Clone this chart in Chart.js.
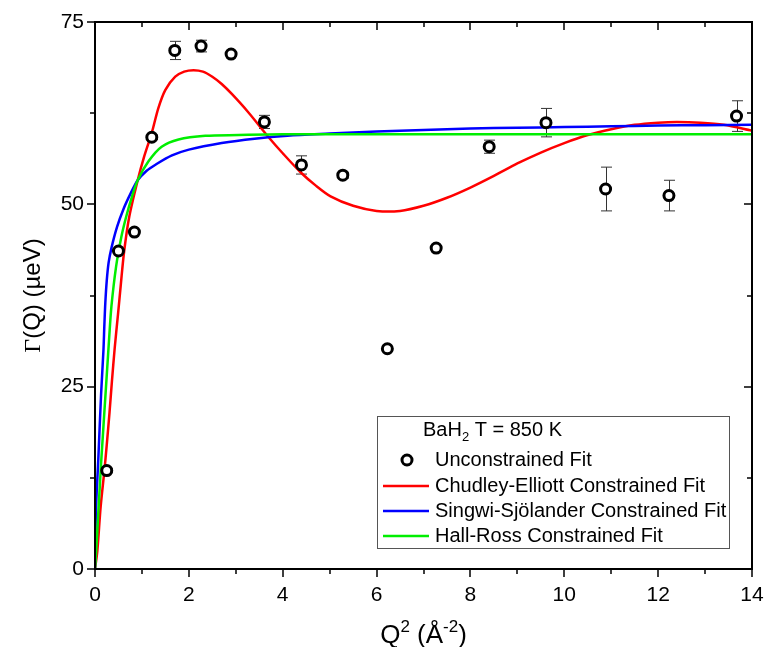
<!DOCTYPE html>
<html>
<head>
<meta charset="utf-8">
<title>BaH2 quasielastic linewidth</title>
<script src="https://cdn.jsdelivr.net/npm/chart.js@4.4.1/dist/chart.umd.min.js"></script>
<style>
    html, body { margin: 0; padding: 0; background: #fff; }
    #wrap { width: 766px; height: 647px; }
</style>
</head>
<body>
<div id="wrap"><canvas id="gamma-canvas" width="766" height="647"></canvas></div>
<script>
// Unconstrained fit linewidths, Q^2 in 1/A^2, Gamma in ueV
var q2 = [0.25, 0.50, 0.84, 1.21, 1.70, 2.26, 2.90, 3.61, 4.40, 5.28, 6.23, 7.27, 8.40, 9.61, 10.88, 12.23, 13.67];
var gamma = [13.5, 43.6, 46.2, 59.2, 71.1, 71.7, 70.6, 61.3, 55.4, 54.0, 30.2, 44.0, 57.9, 61.2, 52.1, 51.2, 62.1];
var gammaErr = [0.3, 0.3, 0.3, 0.3, 1.25, 0.8, 0.3, 0.9, 1.25, 0.4, 0.3, 0.3, 0.9, 1.95, 3.0, 2.1, 2.1];

// Chudley-Elliott constrained fit
var ceQ2 = [0, 0.05, 0.12, 0.2, 0.25, 0.31, 0.36, 0.42, 0.49, 0.55, 0.62, 0.73, 0.91, 1.05, 1.21, 1.35, 1.5, 1.71, 1.9, 2.1, 2.3, 2.5, 2.7, 2.92, 3.27, 3.7, 4.0, 4.38, 4.7, 5.02, 5.5, 6.0, 6.5, 7.0, 7.5, 8.0, 8.5, 9.0, 9.5, 10.0, 10.5, 11.0, 11.5, 12.0, 12.4, 12.9, 13.4, 14.0];
var ceGamma = [0, 2.5, 8.5, 13.5, 17, 21.5, 25.7, 30.3, 34.9, 39.0, 43.5, 48.3, 53.3, 56.6, 59.8, 63.2, 65.7, 67.5, 68.2, 68.4, 68.2, 67.5, 66.5, 65.1, 62.6, 59.2, 57.0, 54.4, 52.6, 51.1, 49.8, 49.1, 49.1, 49.8, 50.9, 52.3, 53.9, 55.6, 57.1, 58.4, 59.5, 60.3, 60.9, 61.2, 61.3, 61.2, 60.9, 60.1];

// Singwi-Sjolander constrained fit
var ssQ2 = [0, 0.02, 0.07, 0.13, 0.18, 0.2, 0.22, 0.25, 0.29, 0.35, 0.47, 0.61, 0.76, 0.91, 1.1, 1.28, 1.64, 2.0, 2.7, 3.4, 4.1, 5.0, 6.0, 7.0, 8.0, 9.0, 10.0, 11.0, 12.0, 13.0, 14.0];
var ssGamma = [0, 8, 15, 24, 30, 33.5, 36.5, 39.5, 42.0, 44.0, 46.9, 49.4, 51.5, 53.3, 54.6, 55.4, 56.7, 57.5, 58.4, 59.0, 59.4, 59.7, 60.0, 60.2, 60.4, 60.5, 60.6, 60.7, 60.8, 60.85, 60.9];

// Hall-Ross constrained fit
var hrQ2 = [0, 0.03, 0.13, 0.26, 0.3, 0.35, 0.45, 0.56, 0.66, 0.78, 0.91, 1.14, 1.42, 1.78, 2.35, 3.06, 4.0, 6.0, 10.0, 14.0];
var hrGamma = [0, 3, 14.5, 27.5, 31.5, 36, 41.5, 45.5, 48.2, 50.9, 53.3, 55.9, 57.9, 58.9, 59.4, 59.5, 59.6, 59.6, 59.6, 59.6];

var xTicksMajor = 2;
var yTicksMajor = 25;
var FONT = "'Liberation Sans', Arial, sans-serif";

function pairs(xs, ys) {
    return xs.map(function (x, i) { return { x: x, y: ys[i] }; });
}

// error bars behind the open circles
var errorBars = {
    id: 'errorBars',
    beforeDatasetsDraw: function (chart) {
        var ctx = chart.ctx, ys = chart.scales.y;
        var meta = chart.getDatasetMeta(0);
        ctx.save();
        ctx.strokeStyle = '#333';
        ctx.lineWidth = 1;
        ctx.beginPath();
        meta.data.forEach(function (pt, i) {
            var x = Math.round(pt.x) + 0.5;
            var top = ys.getPixelForValue(gamma[i] + gammaErr[i]);
            var bot = ys.getPixelForValue(gamma[i] - gammaErr[i]);
            ctx.moveTo(x, top); ctx.lineTo(x, bot);
            ctx.moveTo(x - 5.5, top); ctx.lineTo(x + 5.5, top);
            ctx.moveTo(x - 5.5, bot); ctx.lineTo(x + 5.5, bot);
        });
        ctx.stroke();
        ctx.restore();
    }
};

// box frame, minor/major ticks, axis titles and the inset legend
var frame = {
    id: 'frame',
    afterDraw: function (chart) {
        var ctx = chart.ctx, a = chart.chartArea;
        var xs = chart.scales.x, ys = chart.scales.y;
        ctx.save();
        ctx.strokeStyle = '#000';
        ctx.lineWidth = 2;
        ctx.strokeRect(a.left, a.top, a.right - a.left, a.bottom - a.top);

        ctx.lineWidth = 1.5;
        ctx.beginPath();
        xs.ticks.forEach(function (t) {
            var px = Math.round(xs.getPixelForValue(t.value));
            var len = (t.value % xTicksMajor === 0) ? 8 : 5;
            ctx.moveTo(px, a.bottom); ctx.lineTo(px, a.bottom + len);
            ctx.moveTo(px, a.top); ctx.lineTo(px, a.top + len);
        });
        ys.ticks.forEach(function (t) {
            var py = Math.round(ys.getPixelForValue(t.value));
            var len = (t.value % yTicksMajor === 0) ? 8 : 5;
            ctx.moveTo(a.left, py); ctx.lineTo(a.left - len, py);
            ctx.moveTo(a.right, py); ctx.lineTo(a.right - len, py);
        });
        ctx.stroke();

        // axis titles
        ctx.fillStyle = '#000';
        ctx.textBaseline = 'alphabetic';
        var big = '26px ' + FONT, small = '17px ' + FONT;
        var cx = (a.left + a.right) / 2, by = a.bottom + 74;
        var parts = [['Q', big, 0], ['2', small, -11], [' (Å', big, 0], ['-2', small, -11], [')', big, 0]];
        var total = 0;
        parts.forEach(function (p) { ctx.font = p[1]; p.push(ctx.measureText(p[0]).width); total += p[3]; });
        var x0 = cx - total / 2;
        ctx.textAlign = 'left';
        parts.forEach(function (p) {
            ctx.font = p[1];
            ctx.fillText(p[0], x0, by + p[2]);
            x0 += p[3];
        });

        ctx.save();
        ctx.translate(a.left - 55, (a.top + a.bottom) / 2);
        ctx.rotate(-Math.PI / 2);
        ctx.font = "24px 'Liberation Serif', 'Times New Roman', serif";
        var g = ctx.measureText('Γ').width;
        ctx.font = '24px ' + FONT;
        var rest = ctx.measureText('(Q) (µeV)').width;
        var sx = -(g + rest) / 2;
        ctx.font = "24px 'Liberation Serif', 'Times New Roman', serif";
        ctx.fillText('Γ', sx, 0);
        ctx.font = '24px ' + FONT;
        ctx.fillText('(Q) (µeV)', sx + g, 0);
        ctx.restore();

        // legend
        var lx = a.left + 282, ly = a.top + 394, lw = 352, lh = 132;
        ctx.fillStyle = '#fff';
        ctx.fillRect(lx, ly, lw, lh);
        ctx.strokeStyle = '#555';
        ctx.lineWidth = 1;
        ctx.strokeRect(lx + 0.5, ly + 0.5, lw, lh);

        ctx.fillStyle = '#000';
        ctx.textBaseline = 'middle';
        ctx.font = '20px ' + FONT;
        var tx = lx + 46, ty = ly + 14;
        ctx.fillText('BaH', tx, ty);
        var bw = ctx.measureText('BaH').width;
        ctx.font = '13px ' + FONT;
        ctx.fillText('2', tx + bw, ty + 7);
        var sw = ctx.measureText('2').width;
        ctx.font = '20px ' + FONT;
        ctx.fillText(' T = 850 K', tx + bw + sw, ty);

        var rows = chart.data.datasets;
        var rowY = [ly + 44, ly + 70, ly + 95, ly + 120];
        rows.forEach(function (ds, i) {
            var yy = rowY[i];
            if (ds.showLine === false) {
                ctx.beginPath();
                ctx.arc(lx + 30, yy, ds.pointRadius, 0, Math.PI * 2);
                ctx.fillStyle = ds.backgroundColor;
                ctx.fill();
                ctx.lineWidth = ds.borderWidth;
                ctx.strokeStyle = ds.borderColor;
                ctx.stroke();
            } else {
                ctx.beginPath();
                ctx.moveTo(lx + 6, yy);
                ctx.lineTo(lx + 52, yy);
                ctx.lineWidth = 2.5;
                ctx.strokeStyle = ds.borderColor;
                ctx.stroke();
            }
            ctx.fillStyle = '#000';
            ctx.font = '20px ' + FONT;
            ctx.fillText(ds.label, lx + 58, yy);
        });
        ctx.restore();
    }
};

function fitLine(label, xs, ys, colour, order) {
    return {
        type: 'line', label: label, data: pairs(xs, ys),
        borderColor: colour, borderWidth: 2.5, pointRadius: 0,
        fill: false, tension: 0.3, order: order
    };
}

var chart = new Chart(document.getElementById('gamma-canvas').getContext('2d'), {
    type: 'scatter',
    data: {
        datasets: [
            {
                label: 'Unconstrained Fit', data: pairs(q2, gamma), showLine: false,
                pointStyle: 'circle', pointRadius: 5, borderWidth: 3,
                borderColor: '#000', backgroundColor: '#fff', order: 0
            },
            fitLine('Chudley-Elliott Constrained Fit', ceQ2, ceGamma, '#ff0000', 3),
            fitLine('Singwi-Sjölander Constrained Fit', ssQ2, ssGamma, '#0000ff', 2),
            fitLine('Hall-Ross Constrained Fit', hrQ2, hrGamma, '#00ee00', 1)
        ]
    },
    options: {
        responsive: false,
        devicePixelRatio: 1,
        animation: false,
        events: [],
        layout: { padding: { left: 0, right: 14, top: 22, bottom: 0 } },
        plugins: { legend: { display: false }, tooltip: { enabled: false } },
        scales: {
            x: {
                type: 'linear', min: 0, max: 14,
                grid: { display: false, drawTicks: false },
                border: { display: false },
                ticks: {
                    stepSize: 1, autoSkip: false, maxRotation: 0, padding: 14,
                    color: '#000', font: { family: FONT, size: 21 },
                    callback: function (v) { return v % xTicksMajor === 0 ? v : ''; }
                },
                afterFit: function (s) { s.height = 78; s.paddingLeft = 0; s.paddingRight = 0; }
            },
            y: {
                type: 'linear', min: 0, max: 75,
                grid: { display: false, drawTicks: false },
                border: { display: false },
                ticks: {
                    stepSize: 12.5, autoSkip: false, padding: 11,
                    color: '#000', font: { family: FONT, size: 21 },
                    callback: function (v) { return v % yTicksMajor === 0 ? v : ''; }
                },
                afterFit: function (s) { s.width = 95; s.paddingTop = 0; s.paddingBottom = 0; }
            }
        }
    },
    plugins: [errorBars, frame]
});
</script>
</body>
</html>
